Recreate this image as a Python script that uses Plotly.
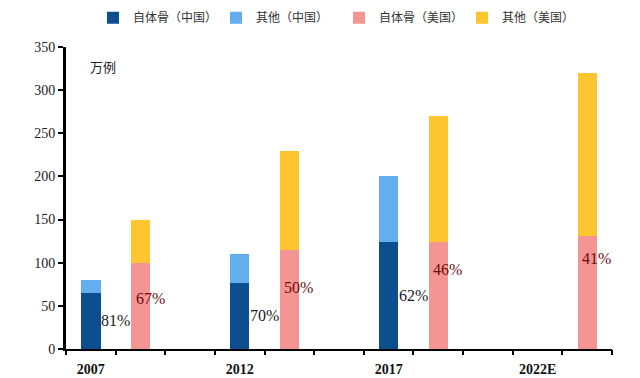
import plotly.graph_objects as go

# ---- data ----
years = ["2007", "2012", "2017", "2022E"]
cn_auto = [65, 77, 124, None]        # 自体骨（中国）
cn_other = [15, 33, 76, None]        # 其他（中国）
us_auto = [100, 115, 124, 131]       # 自体骨（美国）
us_other = [50, 115, 146, 189]       # 其他（美国）
cn_pct = ["81%", "70%", "62%", None]
us_pct = ["67%", "50%", "46%", "41%"]
us_pct_y = [58, 71, 92, 105]         # label heights

# category layout: each year occupies 3 slots (China, US, gap)
cn_x = [3 * i for i in range(len(years))]
us_x = [3 * i + 1 for i in range(len(years))]
n_slots = 3 * len(years) - 1

C_DARK = "#0D4E8F"
C_LIGHT = "#62AEEE"
C_PINK = "#F59593"
C_YEL = "#FDC631"
BW = 0.39

fig = go.Figure()
fig.add_trace(go.Bar(name="自体骨（中国）", x=cn_x, y=cn_auto, marker_color=C_DARK, width=BW))
fig.add_trace(go.Bar(name="其他（中国）", x=cn_x, y=cn_other, marker_color=C_LIGHT, width=BW))
fig.add_trace(go.Bar(name="自体骨（美国）", x=us_x, y=us_auto, marker_color=C_PINK, width=BW))
fig.add_trace(go.Bar(name="其他（美国）", x=us_x, y=us_other, marker_color=C_YEL, width=BW))
for tr in fig.data:
    tr.marker.line.width = 0

# dummy trace to carry the boundary-tick axis
fig.add_trace(go.Scatter(x=[-0.5, n_slots - 0.5], y=[0, 0], xaxis="x2", mode="markers",
                         marker=dict(opacity=0), showlegend=False, hoverinfo="skip"))

annots = []
for xi, v, t in zip(cn_x, cn_auto, cn_pct):
    if t is None:
        continue
    annots.append(dict(x=xi + BW / 2 - 0.03, y=v / 2, text=t, xanchor="left", yanchor="middle",
                       showarrow=False, font=dict(family="Liberation Serif", size=16, color="#1a1a1a")))
for xi, yv, t in zip(us_x, us_pct_y, us_pct):
    annots.append(dict(x=xi - 0.14, y=yv, text=t, xanchor="left", yanchor="middle",
                       showarrow=False, font=dict(family="Liberation Serif", size=16, color="#6B0A0A")))
annots.append(dict(x=0.04, xref="paper", y=0.935, yref="paper", text="万例", showarrow=False,
                   xanchor="left", yanchor="middle",
                   font=dict(family="Noto Sans CJK SC", size=13, color="#222")))

boundaries = [b - 0.5 for b in range(n_slots + 1)]

# page body has an 8px default margin, so the figure is shrunk by 8px to fit the 640x378 window
fig.update_layout(
    width=632, height=370,
    margin=dict(l=58, r=28, t=39, b=29, autoexpand=False),
    paper_bgcolor="white", plot_bgcolor="white",
    barmode="stack",
    showlegend=True,
    legend=dict(orientation="h", x=0.5, xanchor="center", y=1.145, yanchor="top",
                font=dict(family="Noto Sans CJK SC", size=12, color="#333"),
                itemwidth=30, tracegroupgap=0, traceorder="normal", entrywidth=78),
    xaxis=dict(range=[-0.5, n_slots - 0.5], tickmode="array", tickvals=cn_x, ticktext=years,
               ticks="", showline=True, linecolor="black", linewidth=2, showgrid=False,
               zeroline=False, tickfont=dict(family="Liberation Serif", size=14, color="#111", weight="bold"),
               ticklabelstandoff=6),
    xaxis2=dict(range=[-0.5, n_slots - 0.5], overlaying="x", anchor="y", side="bottom",
                tickmode="array", tickvals=boundaries, showticklabels=False,
                ticks="outside", ticklen=5, tickwidth=1.5, tickcolor="black",
                showline=False, showgrid=False, zeroline=False),
    yaxis=dict(range=[0, 350], dtick=50, ticks="outside", ticklen=5, tickwidth=1.5, tickcolor="black",
               showline=True, linecolor="black", linewidth=3, showgrid=False, zeroline=False,
               tickfont=dict(family="Liberation Serif", size=14, color="#222")),
    annotations=annots,
)

fig.write_html("out.html")
